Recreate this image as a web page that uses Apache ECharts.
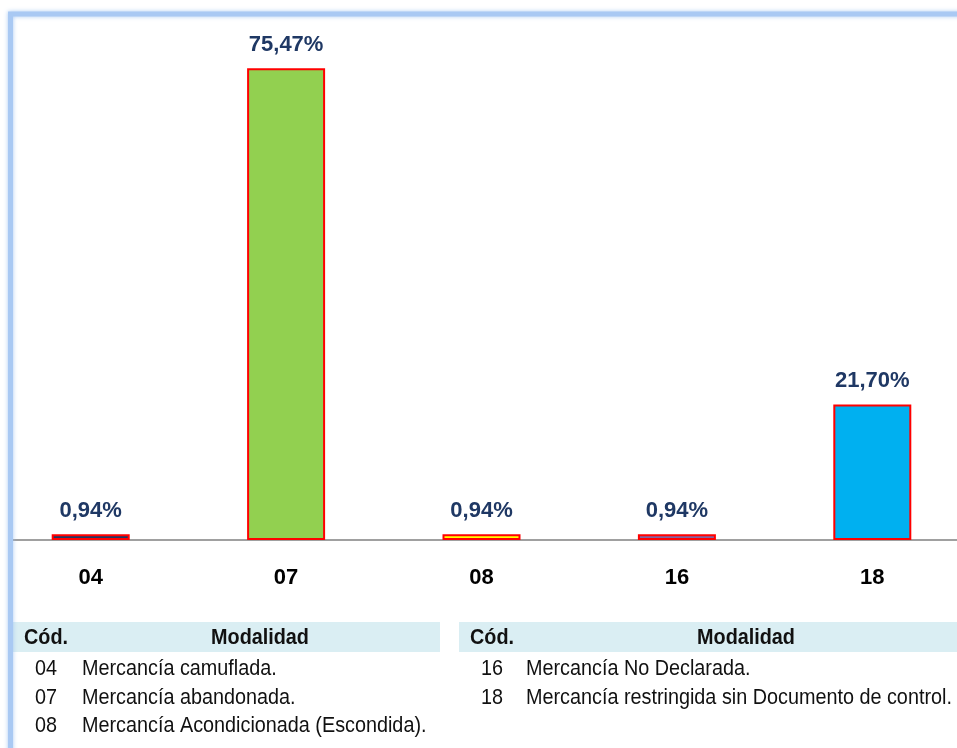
<!DOCTYPE html>
<html lang="es">
<head>
    <meta charset="UTF-8">
    <title>Modalidad</title>
    <style>
        html, body { margin: 0; padding: 0; background: #fff; }
    </style>
</head>
<body>

<div id="main" style="width: 957px;height:748px;"></div>

</body>
<script src="https://cdn.jsdelivr.net/npm/echarts@6/dist/echarts.min.js"></script>
<script type="text/javascript">
    // datos del grafico
    var categories = ['04', '07', '08', '16', '18'];
    var values = [0.94, 75.47, 0.94, 0.94, 21.70];
    var barColors = ['#1f3864', '#92d050', '#ffff00', '#8064a2', '#00b0f0'];

    // tabla de modalidades (dos bloques)
    var codesLeft = ['04', '07', '08'];
    var namesLeft = ['Mercancía camuflada.', 'Mercancía abandonada.', 'Mercancía Acondicionada (Escondida).'];
    var codesRight = ['16', '18'];
    var namesRight = ['Mercancía No Declarada.', 'Mercancía restringida sin Documento de control.'];

    var font = "'Liberation Sans', Arial, sans-serif";

    var myChart = echarts.init(document.getElementById('main'));

    var graphics = [];

    // texto "estrecho" (Arial Narrow no esta, se comprime en x)
    function txt(x, y, s, f, align) {
        graphics.push({
            type: 'text', x: x, y: y, z: 6, scaleX: 0.9,
            style: {text: s, font: f, fill: '#111', align: align || 'left', verticalAlign: 'middle'}
        });
    }

    // encabezados de las tablas
    function header(x, w, codX, modX) {
        graphics.push({
            type: 'rect', shape: {x: x, y: 622, width: w, height: 30},
            style: {fill: '#daeef3'}, z: 5
        });
        txt(codX, 638, 'Cód.', 'bold 22px ' + font);
        txt(modX, 638, 'Modalidad', 'bold 22px ' + font, 'center');
    }
    header(13, 427, 24, 260);
    header(459, 498, 470, 746);

    // filas
    function rows(codes, names, codeX, nameX) {
        codes.forEach(function (c, i) {
            var y = 669 + i * 28.5;
            txt(codeX, y, c, '22px ' + font, 'center');
            txt(nameX, y, names[i], '22px ' + font);
        });
    }
    rows(codesLeft, namesLeft, 46, 82);
    rows(codesRight, namesRight, 492, 526);

    // tapa lo que queda fuera del marco
    graphics.push({
        type: 'rect', shape: {x: 0, y: 0, width: 9, height: 748},
        style: {fill: '#fff'}, z: 9
    });

    // marco azul (solo se ven arriba e izquierda)
    graphics.push({
        type: 'rect', shape: {x: 10.5, y: 14, width: 1000, height: 800},
        style: {fill: null, stroke: '#a9c9f3', lineWidth: 5, shadowBlur: 4, shadowColor: 'rgba(150,190,240,0.8)'},
        z: 10
    });

    var option = {
        animation: false,
        grid: {
            left: -7,
            right: -13,
            top: 40,
            bottom: 208,
            outerBoundsMode: 'none'
        },
        xAxis: {
            type: 'category',
            data: categories,
            axisLine: {lineStyle: {color: '#a0a0a0', width: 2}},
            axisTick: {show: false},
            axisLabel: {
                margin: 27,
                fontFamily: font,
                fontWeight: 'bold',
                fontSize: 22,
                color: '#000'
            }
        },
        yAxis: {
            type: 'value',
            min: 0,
            max: 80,
            show: false,
            splitLine: {show: false}
        },
        series: [
            {
                type: 'bar',
                barWidth: 78,
                data: values.map(function (v, i) {
                    return {value: v, itemStyle: {color: barColors[i]}};
                }),
                itemStyle: {borderColor: '#ff0000', borderWidth: 2},
                label: {
                    show: true,
                    position: 'top',
                    distance: 12,
                    fontFamily: font,
                    fontWeight: 'bold',
                    fontSize: 22,
                    color: '#1f3864',
                    formatter: function (p) {
                        return p.value.toFixed(2).replace('.', ',') + '%';
                    }
                }
            }
        ],
        graphic: graphics
    };

    myChart.setOption(option);
</script>
</html>
